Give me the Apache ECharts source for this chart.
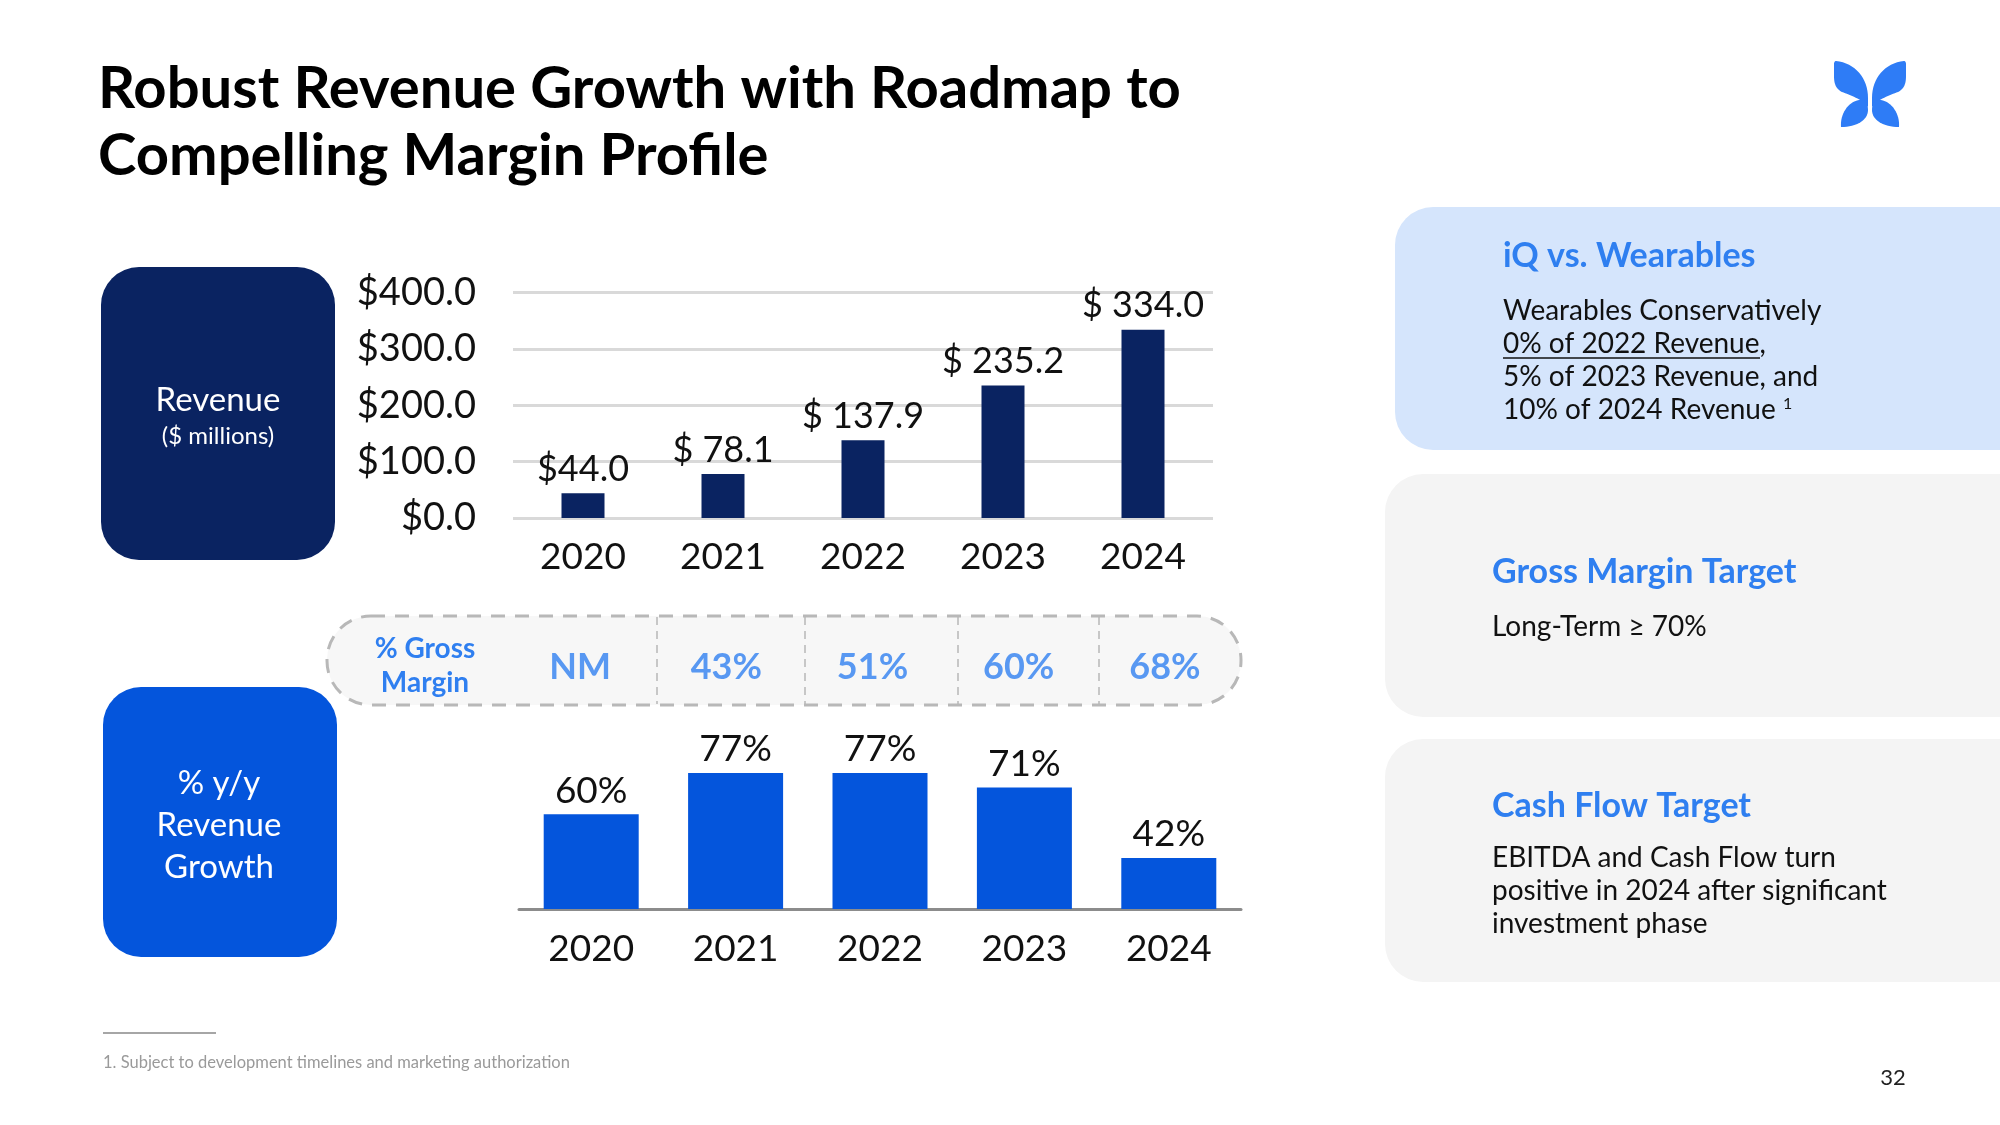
<!DOCTYPE html>
<html><head><meta charset="utf-8">
<script src="https://cdn.jsdelivr.net/npm/echarts@6/dist/echarts.min.js"></script>
<style>html,body{margin:0;padding:0;background:#fff}#c{width:2000px;height:1125px}</style>
</head><body><div id="c"></div>
<script>
// ---- data ----
const years = ['2020', '2021', '2022', '2023', '2024'];
const revenue = [44.0, 78.1, 137.9, 235.2, 334.0];
const revenueLabels = ['$44.0', '$ 78.1', '$ 137.9', '$ 235.2', '$ 334.0'];
const revenueTicks = [0, 100, 200, 300, 400];
const growth = [60, 77, 77, 71, 42];
const grossMargin = ['NM', '43%', '51%', '60%', '68%'];

const FONT = 'Lato';
const NAVY = '#0a2361';
const BLUE = '#0455dc';
const LBLUE = '#2f7ff0';
const INK = '#111111';

const chart = echarts.init(document.getElementById('c'), null, {renderer: 'canvas'});

// logo shapes as sampled cubic curves
function sampleCubics(start, segs) {
  const pts = [start.slice()];
  let p0 = start;
  segs.forEach(s => {
    const [c1x, c1y, c2x, c2y, x, y] = s;
    for (let i = 1; i <= 16; i++) {
      const t = i / 16, u = 1 - t;
      pts.push([
        u*u*u*p0[0] + 3*u*u*t*c1x + 3*u*t*t*c2x + t*t*t*x,
        u*u*u*p0[1] + 3*u*u*t*c1y + 3*u*t*t*c2y + t*t*t*y
      ]);
    }
    p0 = [x, y];
  });
  return pts;
}
const upperWing = sampleCubics([1836, 61], [
  [1855, 63, 1868, 78, 1868, 98],
  [1868, 101, 1868, 104, 1868, 107],
  [1862, 99, 1850, 95, 1842, 92],
  [1836, 89, 1834, 84, 1834, 76],
  [1834, 72, 1834, 68, 1834, 64],
  [1834, 62, 1835, 61, 1836, 61]
]);
const lowerWing = sampleCubics([1841, 127], [
  [1840, 114, 1848, 102, 1859, 100],
  [1865, 99, 1868, 104, 1868, 110],
  [1868, 120, 1857, 127, 1841, 127]
]);
const mirror = pts => pts.map(p => [3740 - p[0], p[1]]);

const txt = (x, y, text, size, opts = {}) => ({
  type: 'text', x, y, z: 10,
  style: Object.assign({
    text, fontFamily: FONT, fontSize: size, fill: INK,
    align: 'left', verticalAlign: 'middle'
  }, opts)
});

const LOGO = '#2e7cf6';
const graphics = [
  // title
  txt(98, 123, 'Robust Revenue Growth with Roadmap to\nCompelling Margin Profile', 58, {fontWeight: 'bold', fill: '#000', lineHeight: 67}),
  // logo
  {type: 'polygon', shape: {points: upperWing}, style: {fill: LOGO}},
  {type: 'polygon', shape: {points: lowerWing}, style: {fill: LOGO}},
  {type: 'polygon', shape: {points: mirror(upperWing)}, style: {fill: LOGO}},
  {type: 'polygon', shape: {points: mirror(lowerWing)}, style: {fill: LOGO}},
  // revenue box
  {type: 'rect', shape: {x: 101, y: 267, width: 234, height: 293, r: 38}, style: {fill: NAVY}},
  txt(218, 400, 'Revenue', 33, {fill: '#fff', align: 'center'}),
  txt(218, 436, '($ millions)', 24, {fill: '#fff', align: 'center'}),
  // growth box
  {type: 'rect', shape: {x: 103, y: 687, width: 234, height: 270, r: 38}, style: {fill: BLUE}},
  txt(219, 825, '% y/y\nRevenue\nGrowth', 33, {fill: '#fff', align: 'center', lineHeight: 42}),
  // gross margin row
  {type: 'rect', shape: {x: 327, y: 616, width: 914, height: 89, r: 44},
   style: {fill: '#f7f7f7', stroke: '#b8b8b8', lineWidth: 3, lineDash: [14, 10]}},
  txt(425, 666, '% Gross\nMargin', 28, {fill: LBLUE, align: 'center', fontWeight: 'bold', lineHeight: 34}),
  // right panels
  {type: 'rect', shape: {x: 1395, y: 207, width: 700, height: 243, r: 38}, style: {fill: '#d5e5fc'}},
  {type: 'rect', shape: {x: 1385, y: 474, width: 700, height: 243, r: 38}, style: {fill: '#f4f4f4'}},
  {type: 'rect', shape: {x: 1385, y: 739, width: 700, height: 243, r: 38}, style: {fill: '#f4f4f4'}},
  txt(1503, 256, 'iQ vs. Wearables', 34, {fill: LBLUE, fontWeight: 'bold'}),
  {type: 'text', x: 1503, y: 360.5, z: 10, style: {
    text: 'Wearables Conservatively\n0% of 2022 Revenue,\n5% of 2023 Revenue, and\n10% of 2024 Revenue {sup|1}',
    fontFamily: FONT, fontSize: 28, fill: INK, lineHeight: 33, align: 'left', verticalAlign: 'middle',
    rich: {sup: {fontFamily: FONT, fontSize: 16, fill: INK, padding: [0, 0, 12, 0]}}
  }},
  {type: 'line', z: 10, shape: {x1: 1503, y1: 358, x2: 1760, y2: 358}, style: {stroke: INK, lineWidth: 1.5}},
  txt(1492, 572, 'Gross Margin Target', 34, {fill: LBLUE, fontWeight: 'bold'}),
  txt(1492, 627, 'Long-Term \u2265 70%', 28),
  txt(1492, 806, 'Cash Flow Target', 34, {fill: LBLUE, fontWeight: 'bold'}),
  txt(1492, 891, 'EBITDA and Cash Flow turn\npositive in 2024 after significant\ninvestment phase', 28, {lineHeight: 33}),
  // footnote
  {type: 'line', shape: {x1: 103, y1: 1033, x2: 216, y2: 1033}, style: {stroke: '#a6a6a6', lineWidth: 2}},
  txt(103, 1063, '1. Subject to development timelines and marketing authorization', 16.5, {fill: '#9a9a9a'}),
  txt(1893, 1078, '32', 22, {fill: '#222', align: 'center'})
];

// dashed dividers between gross-margin cells
[657, 805, 958, 1099].forEach(x => graphics.push({
  type: 'line', shape: {x1: x, y1: 617, x2: x, y2: 704},
  style: {stroke: '#b8b8b8', lineWidth: 1.5, lineDash: [8, 6]}
}));

const option = {
  animation: false,
  backgroundColor: '#ffffff',
  textStyle: {fontFamily: FONT},
  grid: [
    {left: 513, width: 700, top: 292.5, height: 225.5, containLabel: false},
    {left: 519, width: 722, top: 717, height: 192, containLabel: false},
    {left: 507, width: 731, top: 617, height: 100, containLabel: false}
  ],
  xAxis: [
    {type: 'category', gridIndex: 0, data: years,
     axisLine: {show: false}, axisTick: {show: false},
     axisLabel: {fontSize: 37, color: INK, margin: 21, fontFamily: FONT}},
    {type: 'category', gridIndex: 1, data: years,
     axisLine: {show: true, lineStyle: {color: '#8c8c8c', width: 3}}, axisTick: {show: false},
     axisLabel: {fontSize: 37, color: INK, margin: 22, fontFamily: FONT}},
    {type: 'category', gridIndex: 2, data: years, show: false}
  ],
  yAxis: [
    {type: 'value', gridIndex: 0, min: revenueTicks[0], max: revenueTicks[revenueTicks.length - 1], interval: 100,
     axisLine: {show: false}, axisTick: {show: false},
     splitLine: {lineStyle: {color: '#d9d9d9', width: 3}},
     axisLabel: {fontSize: 38, color: INK, margin: 37, fontFamily: FONT, formatter: v => '$' + v.toFixed(1)}},
    {type: 'value', gridIndex: 1, min: 21, max: 100, show: false, splitLine: {show: false}},
    {type: 'value', gridIndex: 2, min: 0, max: 1, show: false, splitLine: {show: false}}
  ],
  series: [
    {type: 'bar', xAxisIndex: 0, yAxisIndex: 0, data: revenue, barWidth: 43,
     itemStyle: {color: NAVY},
     label: {show: true, position: 'top', distance: 6, fontSize: 36, color: INK, fontFamily: FONT,
             formatter: p => revenueLabels[p.dataIndex]}},
    {type: 'bar', xAxisIndex: 1, yAxisIndex: 1, data: growth, barWidth: 95,
     itemStyle: {color: BLUE},
     label: {show: true, position: 'top', distance: 5, fontSize: 37, color: INK, fontFamily: FONT,
             formatter: p => p.value + '%'}},
    {type: 'scatter', xAxisIndex: 2, yAxisIndex: 2, symbolSize: 0, z: 5,
     data: grossMargin.map((t, i) => [i, 0.5]),
     label: {show: true, position: 'inside', fontSize: 36, fontWeight: 'bold', color: LBLUE, fontFamily: FONT,
             formatter: p => grossMargin[p.dataIndex]}}
  ],
  graphic: {elements: graphics}
};
chart.setOption(option);
</script></body></html>
